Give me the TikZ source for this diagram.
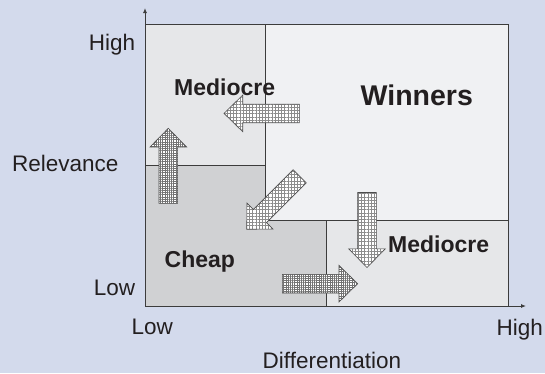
\documentclass[tikz,border=0pt]{standalone}
\usepackage{fontspec}
\setmainfont{Liberation Sans}
\usetikzlibrary{patterns.meta,arrows.meta,calc}
\definecolor{bg}{RGB}{211,218,236}
\definecolor{winc}{RGB}{240,241,243}
\definecolor{medc}{RGB}{230,231,233}
\definecolor{chpc}{RGB}{208,209,211}
\definecolor{linec}{RGB}{60,60,60}
\definecolor{txtc}{RGB}{35,31,32}
\tikzset{
  regline/.style={draw=linec, line width=0.9pt},
  axisline/.style={draw=linec, line width=0.9pt, -{Latex[length=5pt,width=4pt]}},
  lbl/.style={font=\fontsize{22.5}{26}\selectfont, text=txtc, inner sep=0pt, anchor=base west},
  blbl/.style={font=\fontsize{23}{27}\selectfont\bfseries, text=txtc, inner sep=0pt, anchor=base west},
  coarse/.style={preaction={fill=white}, pattern={Hatch[angle=0,distance=3.2pt,line width=0.75pt]}, pattern color=black!45},
  fine/.style={preaction={fill=white}, pattern={Hatch[angle=0,distance=2.2pt,line width=0.7pt]}, pattern color=black!55},
  arrowline/.style={draw=black!70, line width=0.6pt, line join=miter}
}
\newcommand\blockarrow[3]{%
  \path[#1, arrowline]
    let \p1=($(#3)!18.7pt!(#2)$) in
    ($(#2)!9.3pt!90:(#3)$) -- ($(\p1)!9.3pt!90:(#3)$) -- ($(\p1)!18.3pt!90:(#3)$) -- (#3)
    -- ($(\p1)!18.3pt!-90:(#3)$) -- ($(\p1)!9.3pt!-90:(#3)$) -- ($(#2)!9.3pt!-90:(#3)$) -- cycle;}
\begin{document}
\begin{tikzpicture}[x=1pt,y=-1pt]
\useasboundingbox (0,0) rectangle (545,373);
\fill[bg] (0,0) rectangle (545,373);
% regions
\fill[medc] (145,24.3) rectangle (265.7,165);
\fill[winc] (265.7,24.3) rectangle (508.3,220.7);
\fill[chpc] (145,165) -- (265.7,165) -- (265.7,220.7) -- (326.7,220.7) -- (326.7,306) -- (145,306) -- cycle;
\fill[medc] (326.7,220.7) rectangle (508.3,306);
% dividers and frame
\draw[regline] (265.7,24.3) -- (265.7,220.7);
\draw[regline] (145,165) -- (265.7,165);
\draw[regline] (265.7,220.7) -- (508.3,220.7);
\draw[regline] (326.7,220.7) -- (326.7,306);
\draw[regline] (145,24.3) -- (508.3,24.3) -- (508.3,306);
\coordinate (origin) at (145,306);
\coordinate (yend) at (145,8);
\coordinate (xend) at (526,306);
\draw[axisline] (origin) -- (yend);
\draw[axisline] (origin) -- (xend);
% arrows
\coordinate (a1t) at (299.3,113.4); \coordinate (a1h) at (224,113.4);
\coordinate (a2t) at (168.3,203.3); \coordinate (a2h) at (168.3,128.3);
\coordinate (a3t) at (299.7,176.3); \coordinate (a3h) at (246.7,229.3);
\coordinate (a4t) at (282.3,283.7); \coordinate (a4h) at (357.7,283.7);
\coordinate (a5t) at (367,192.5);   \coordinate (a5h) at (367,267.5);
\blockarrow{coarse}{a1t}{a1h}
\blockarrow{fine}{a2t}{a2h}
\blockarrow{coarse}{a3t}{a3h}
\blockarrow{fine}{a4t}{a4h}
\blockarrow{coarse}{a5t}{a5h}
% region labels
\node[blbl] (medtl) at (174,95) {Mediocre};
\node[blbl, font=\fontsize{28.5}{33}\selectfont\bfseries] (win) at (360.5,105) {Winners};
\node[blbl] (cheap) at (164.5,267.3) {Cheap};
\node[blbl] (medbr) at (388,252.3) {Mediocre};
% axis labels
\node[lbl, anchor=base east] (yhigh) at (135.3,50) {High};
\node[lbl] (ylabel) at (12,171.7) {Relevance};
\node[lbl, anchor=base east] (ylow) at (135.3,295) {Low};
\node[lbl] (xlow) at (131.5,334.3) {Low};
\node[lbl] (xhigh) at (496.5,335) {High};
\node[lbl] (xlabel) at (262.5,368.3) {Differentiation};
\end{tikzpicture}
\end{document}
